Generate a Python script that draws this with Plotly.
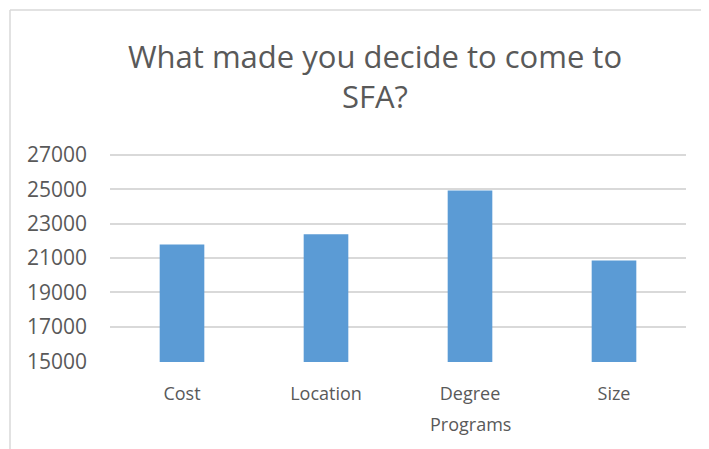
import plotly.graph_objects as go

categories = ["Cost", "Location", "Degree Programs", "Size"]
label_line1 = ["Cost", "Location", "Degree", "Size"]
label_line2 = ["", "", "Programs", ""]
values = [21780, 22380, 24920, 20850]
tick_vals = [15000, 17000, 19000, 21000, 23000, 25000, 27000]
tick_text = ["15000", "17000", "19000", "21000", "23000", "25000", "27000"]

fig = go.Figure(go.Bar(x=categories, y=values, marker_color="#5b9bd5",
                       marker_line_width=0, width=0.31))

# page body has an 8px default margin; compensate so the plot lands where the reference has it
L, T, R, B = 102, 145, 31, 95
plot_w = 709 - L - R
plot_h = 449 - T - B
font_family = "Open Sans"
grey = "#595959"

annotations = [
    dict(x=c, y=0, xref="x", yref="paper", text=t, showarrow=False,
         yanchor="middle", yshift=-62, font=dict(family=font_family, size=18, color=grey))
    for c, t in zip(categories, label_line2) if t
]

fig.update_layout(
    width=709, height=449,
    margin=dict(l=L, r=R, t=T, b=B),
    paper_bgcolor="white", plot_bgcolor="white",
    title=dict(text="What made you decide to come to<br>SFA?",
               xref="container", x=367/709, xanchor="center",
               yref="container", y=0.866, yanchor="top",
               font=dict(family=font_family, size=31, color=grey)),
    font=dict(family=font_family, size=18, color=grey),
    showlegend=False,
    xaxis=dict(showgrid=False, showline=False, ticks="", automargin=False,
               tickvals=categories, ticktext=label_line1,
               ticklabelstandoff=19, tickfont=dict(size=18, color=grey)),
    yaxis=dict(range=[14960, 27100], tickvals=tick_vals, ticktext=tick_text,
               showgrid=True, gridcolor="#d9d9d9", automargin=False,
               gridwidth=1.5, zeroline=False, showline=False, ticklabelstandoff=22,
               tickfont=dict(size=21, color=grey)),
    annotations=annotations,
    shapes=[
        dict(type="line", xref="paper", yref="paper", x0=(2 - L)/plot_w, x1=(2 - L)/plot_w,
             y0=-1, y1=(449 - B - 2)/plot_h,
             line=dict(color="#d9d9d9", width=1.5)),
        dict(type="line", xref="paper", yref="paper", x0=(2 - L)/plot_w, x1=2,
             y0=(449 - B - 2)/plot_h, y1=(449 - B - 2)/plot_h,
             line=dict(color="#d9d9d9", width=1.5)),
    ],
)
fig.write_html("out.html")
